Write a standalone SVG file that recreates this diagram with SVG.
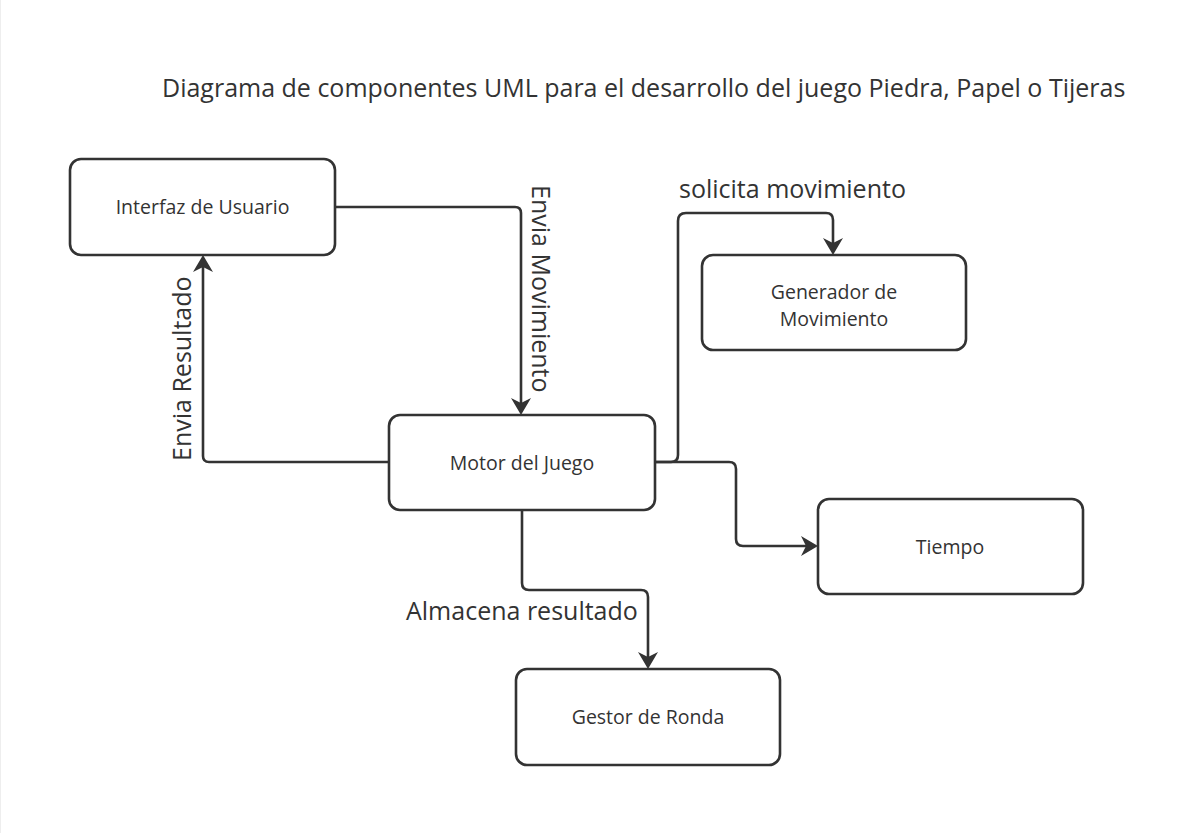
<svg xmlns="http://www.w3.org/2000/svg" width="1199" height="833" viewBox="0 0 1199 833">
<style>
.box{fill:#fff;stroke:#333;stroke-width:2.6}
.lbl{font-family:"Open Sans","Liberation Sans",sans-serif;font-size:19.5px;fill:#333;text-anchor:middle}
.big{font-family:"Open Sans","Liberation Sans",sans-serif;font-size:25px;fill:#333}
.conn{fill:none;stroke:#333;stroke-width:2.6}
</style>
<defs>
<marker id="arr" markerUnits="userSpaceOnUse" viewBox="-14 -11 20 22" refX="0" refY="0" markerWidth="20" markerHeight="22" orient="auto">
<path d="M5,0 L-12,-10 L-7,0 L-12,10 Z" fill="#333"/>
</marker>
</defs>
<rect x="0" y="0" width="1199" height="833" fill="#fff"/>
<line x1="0.5" y1="0" x2="0.5" y2="833" stroke="#eee" stroke-width="1"/>
<text class="big" x="162" y="97">Diagrama de componentes UML para el desarrollo del juego Piedra, Papel o Tijeras</text>
<g id="connectors">
<path class="conn" marker-end="url(#arr)" d="M335,207 H515 Q521,207 521,213 V410"/>
<path class="conn" marker-end="url(#arr)" d="M389,462 H209 Q203,462 203,456 V260"/>
<path class="conn" marker-end="url(#arr)" d="M655,462 H671 Q678,462 678,455 V221 Q678,213 686,213 H826 Q833,213 833,220 V250"/>
<path class="conn" marker-end="url(#arr)" d="M655,462 H729 Q736,462 736,469 V539 Q736,546 743,546 H813"/>
<path class="conn" marker-end="url(#arr)" d="M522,510 V583 Q522,590 529,590 H641 Q648,590 648,597 V664"/>
<text class="big" transform="translate(532,185) rotate(90)">Envia Movimiento</text>
<text class="big" transform="translate(191,461) rotate(-90)">Envia Resultado</text>
<text class="big" x="679" y="198">solicita movimiento</text>
<text class="big" x="406" y="620">Almacena resultado</text>
</g>
<g id="interfaz">
<rect class="box" x="70" y="159" width="265" height="96" rx="11"/>
<text class="lbl" x="202.5" y="214">Interfaz de Usuario</text>
</g>
<g id="motor">
<rect class="box" x="389" y="415" width="266" height="95" rx="11"/>
<text class="lbl" x="522" y="470">Motor del Juego</text>
</g>
<g id="generador">
<rect class="box" x="702" y="255" width="264" height="95" rx="11"/>
<text class="lbl" x="834" y="299">Generador de</text>
<text class="lbl" x="834" y="326">Movimiento</text>
</g>
<g id="tiempo">
<rect class="box" x="818" y="499" width="265" height="95" rx="11"/>
<text class="lbl" x="950" y="554">Tiempo</text>
</g>
<g id="gestor">
<rect class="box" x="516" y="669" width="264" height="96" rx="11"/>
<text class="lbl" x="648" y="724">Gestor de Ronda</text>
</g>
</svg>
